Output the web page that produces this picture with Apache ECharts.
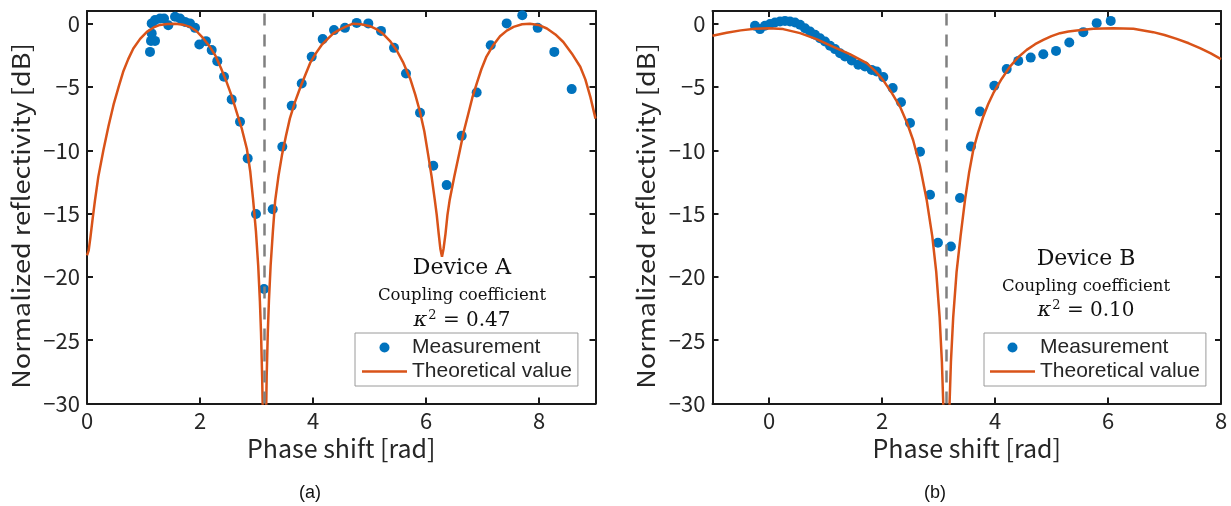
<!DOCTYPE html>
<html>
<head>
<meta charset="utf-8">
<script src="https://cdn.jsdelivr.net/npm/echarts@6/dist/echarts.min.js"></script>
<style>
html,body{margin:0;padding:0;background:#fff;}
#chart{width:1231px;height:506px;}
</style>
</head>
<body>
<div id="chart"></div>
<script>
// ---------- Data ----------
const PI_LINE = 3.1416;
const xTicksA = [0, 2, 4, 6, 8];
const xTicksB = [0, 2, 4, 6, 8];
const yTicks = [-30, -25, -20, -15, -10, -5, 0];
const X_TITLE = 'Phase shift [rad]';
const Y_TITLE = 'Normalized reflectivity [dB]';

// Panel (a) measurement
const xA_meas = [1.115,1.133,1.204,1.145,1.145,1.204,1.292,1.363,1.439,1.558,1.646,1.735,1.823,1.912,1.988,2.106,2.207,2.306,2.425,2.561,2.708,2.844,2.991,3.133,3.287,3.457,3.623,3.800,3.977,4.172,4.372,4.566,4.773,4.979,5.204,5.434,5.646,5.894,6.129,6.366,6.632,6.897,7.145,7.428,7.704,7.977,8.271,8.579];
const yA_meas = [-2.23,-1.36,-1.36,-0.77,0.02,0.28,0.41,0.41,-0.12,0.54,0.41,0.14,0.02,-0.33,-1.64,-1.38,-2.09,-2.96,-4.20,-5.98,-7.75,-10.64,-15.04,-20.95,-14.66,-9.72,-6.49,-4.72,-2.62,-1.22,-0.51,-0.33,0.06,0.02,-0.57,-1.91,-3.93,-7.04,-11.22,-12.75,-8.86,-5.43,-1.70,0.02,0.67,-0.33,-2.23,-5.17];

// Panel (a) theoretical curve
const xA_theo = [0.00,0.03,0.06,0.10,0.14,0.20,0.29,0.38,0.47,0.56,0.64,0.73,0.82,0.94,1.06,1.18,1.29,1.42,1.57,1.70,1.82,1.94,2.06,2.17,2.27,2.37,2.47,2.56,2.65,2.74,2.83,2.89,2.94,2.99,3.03,3.06,3.08,3.10,3.117,3.1416,3.166,3.18,3.20,3.22,3.25,3.29,3.33,3.39,3.45,3.52,3.59,3.68,3.77,3.86,3.95,4.05,4.15,4.26,4.36,4.48,4.60,4.71,4.85,5.01,5.13,5.24,5.36,5.48,5.60,5.72,5.81,5.89,5.97,6.04,6.10,6.155,6.19,6.225,6.255,6.283,6.31,6.345,6.38,6.42,6.50,6.60,6.67,6.75,6.82,6.90,6.98,7.07,7.19,7.31,7.43,7.55,7.70,7.84,7.99,8.14,8.29,8.43,8.58,8.73,8.82,8.91,9.00];
const yA_theo = [-18.3,-17.9,-16.9,-15.4,-14.0,-12.1,-10.0,-8.1,-6.4,-5.0,-3.8,-2.8,-1.96,-1.2,-0.65,-0.3,-0.1,-0.02,0.0,-0.08,-0.25,-0.6,-1.17,-1.8,-2.5,-3.5,-4.6,-5.7,-7.0,-8.3,-9.9,-11.7,-13.9,-16.4,-19.1,-21.9,-24.4,-27.9,-32,-45,-32,-27.9,-24.4,-21.9,-19.1,-16.4,-14.0,-12.0,-10.4,-8.9,-7.5,-6.2,-5.1,-4.1,-3.1,-2.35,-1.7,-1.2,-0.77,-0.45,-0.2,0.0,-0.05,-0.2,-0.45,-0.8,-1.35,-2.1,-3.1,-4.35,-5.6,-6.9,-8.5,-10.4,-12.1,-13.9,-15.1,-16.6,-17.8,-18.4,-17.8,-16.6,-15.1,-13.9,-12.1,-10.0,-8.5,-7.1,-5.85,-4.7,-3.6,-2.6,-1.7,-1.0,-0.55,-0.25,-0.05,0.0,-0.1,-0.38,-0.85,-1.45,-2.35,-3.4,-4.4,-5.8,-7.5];

// Panel (b) measurement
const xB_meas = [-0.248,-0.159,-0.071,0.018,0.106,0.195,0.283,0.372,0.460,0.549,0.637,0.726,0.814,0.903,0.991,1.080,1.168,1.257,1.345,1.464,1.581,1.699,1.818,1.906,2.023,2.189,2.336,2.496,2.673,2.850,2.99,3.22,3.381,3.575,3.735,3.988,4.207,4.412,4.632,4.855,5.080,5.315,5.563,5.800,6.048];
const yB_meas = [-0.17,-0.43,-0.17,-0.02,0.09,0.17,0.22,0.17,0.09,-0.09,-0.36,-0.62,-0.88,-1.15,-1.41,-1.75,-2.01,-2.33,-2.60,-2.91,-3.25,-3.39,-3.65,-3.78,-4.22,-5.09,-6.20,-7.85,-10.12,-13.51,-17.3,-17.6,-13.77,-9.70,-6.94,-4.91,-3.59,-2.94,-2.68,-2.41,-2.15,-1.49,-0.67,0.04,0.22];

// Panel (b) theoretical curve
const xB_theo = [-1.0,-0.75,-0.5,-0.25,0.0,0.25,0.55,0.84,1.14,1.43,1.73,1.88,2.02,2.17,2.32,2.44,2.55,2.67,2.79,2.89,2.96,3.02,3.06,3.09,3.1416,3.19,3.22,3.26,3.32,3.39,3.47,3.54,3.616,3.70,3.793,3.88,3.97,4.12,4.265,4.41,4.561,4.71,4.855,5.0,5.15,5.30,5.446,5.74,6.09,6.45,6.80,7.0,7.216,7.43,7.628,7.82,8.0];
const yB_theo = [-0.96,-0.72,-0.53,-0.41,-0.36,-0.43,-0.75,-1.22,-1.83,-2.4,-3.12,-3.75,-4.46,-5.45,-6.57,-7.8,-9.19,-11.2,-13.9,-16.8,-19.6,-23.2,-26.7,-30.8,-45,-30.8,-26.7,-23.2,-19.6,-16.8,-13.9,-11.8,-9.96,-8.6,-7.33,-6.35,-5.49,-4.35,-3.39,-2.65,-2.07,-1.62,-1.28,-0.98,-0.75,-0.62,-0.54,-0.41,-0.36,-0.41,-0.67,-0.9,-1.2,-1.55,-1.93,-2.35,-2.8];

// ---------- Build chart ----------
const zip = (xs, ys) => xs.map((x, i) => [x, ys[i]]);
const AX = '#262626';
const FRAME = '#1a1a1a';
const TICKFONT = 'Noto Sans CJK JP';
const fmt = v => String(v).replace('-', '\u2212');

function xAxes(grid, min, max, ticks) {
  return [
    { gridIndex: grid, type: 'value', min, max, position: 'bottom',
      name: X_TITLE, nameLocation: 'middle', nameGap: 29,
      nameTextStyle: { fontFamily: TICKFONT, fontSize: 25, color: AX },
      axisLine: { show: true, onZero: false, lineStyle: { color: FRAME, width: 2 } },
      axisTick: { show: true, inside: true, length: 6, customValues: ticks, lineStyle: { color: FRAME, width: 2 } },
      axisLabel: { show: true, customValues: ticks, margin: 6, fontFamily: TICKFONT, fontSize: 22, color: AX, formatter: fmt },
      splitLine: { show: false } },
    { gridIndex: grid, type: 'value', min, max, position: 'top',
      axisLine: { show: true, onZero: false, lineStyle: { color: FRAME, width: 2 } },
      axisTick: { show: true, inside: true, length: 6, customValues: ticks, lineStyle: { color: FRAME, width: 2 } },
      axisLabel: { show: false }, splitLine: { show: false } }
  ];
}
function yAxes(grid) {
  return [
    { gridIndex: grid, type: 'value', min: -30, max: 1, position: 'left',
      axisLine: { show: true, onZero: false, lineStyle: { color: FRAME, width: 2 } },
      axisTick: { show: true, inside: true, length: 6, customValues: yTicks, lineStyle: { color: FRAME, width: 2 } },
      axisLabel: { show: true, customValues: yTicks, margin: 7, fontFamily: TICKFONT, fontSize: 22, color: AX, formatter: fmt },
      splitLine: { show: false } },
    { gridIndex: grid, type: 'value', min: -30, max: 1, position: 'right',
      axisLine: { show: true, onZero: false, lineStyle: { color: FRAME, width: 2 } },
      axisTick: { show: true, inside: true, length: 6, customValues: yTicks, lineStyle: { color: FRAME, width: 2 } },
      axisLabel: { show: false }, splitLine: { show: false } }
  ];
}

function seriesFor(grid, xi, yi, meas, theo) {
  return [
    { type: 'line', xAxisIndex: xi, yAxisIndex: yi, data: [], z: 1, silent: true,
      markLine: { silent: true, symbol: 'none', animation: false, label: { show: false },
        lineStyle: { color: '#808080', type: [12, 9], width: 2.5 },
        data: [{ xAxis: PI_LINE }] } },
    { name: 'Measurement', type: 'scatter', xAxisIndex: xi, yAxisIndex: yi, data: meas,
      symbol: 'circle', symbolSize: 10, itemStyle: { color: '#0072BD', opacity: 1 }, z: 3 },
    { name: 'Theoretical value', type: 'line', xAxisIndex: xi, yAxisIndex: yi, data: theo,
      symbol: 'none', showSymbol: false, clip: true, smooth: false,
      lineStyle: { color: '#D95319', width: 2.5 }, itemStyle: { color: '#D95319' }, z: 4 }
  ];
}

const serif = 'DejaVu Serif';
function annot(cx, y1, y2, y3, dev, kap) {
  return [
    { type: 'text', x: cx, y: y1, style: { text: dev, font: '22px "' + serif + '"', fill: '#111', align: 'center', verticalAlign: 'middle' } },
    { type: 'text', x: cx, y: y2, style: { text: 'Coupling coefficient', font: '16.5px "' + serif + '"', fill: '#111', align: 'center', verticalAlign: 'middle' } },
    { type: 'text', x: cx, y: y3, style: {
        text: '{k|κ}{s|2}{n| = ' + kap + '}', align: 'center', verticalAlign: 'middle',
        rich: {
          k: { font: 'italic 21px "' + serif + '"', fill: '#111' },
          s: { font: '13px "' + serif + '"', fill: '#111', verticalAlign: 'top', padding: [0, 0, 10, 1] },
          n: { font: '20px "' + serif + '"', fill: '#111' }
        } } },
  ];
}
function yTitle(cx, cy) {
  return { type: 'text', x: cx, y: cy, rotation: Math.PI / 2, scaleX: 1.13,
    style: { text: Y_TITLE, font: '24px "' + TICKFONT + '"', fill: AX, align: 'center', verticalAlign: 'middle' } };
}

const legendBase = {
  orient: 'vertical',
  data: [
    { name: 'Measurement', icon: 'circle' },
    { name: 'Theoretical value', icon: 'path://M0,0 L45,0 L45,2.5 L0,2.5 Z' }
  ],
  borderColor: '#9a9a9a', borderWidth: 1, backgroundColor: '#ffffff', borderRadius: 0,
  itemWidth: 45, itemHeight: 10, itemGap: 3, selectedMode: false,
  textStyle: { fontFamily: 'Liberation Sans', fontSize: 21, color: '#262626' }
};

const option = {
  animation: false,
  backgroundColor: '#ffffff',
  grid: [
    { left: 87, top: 11, width: 508.5, height: 392.5, containLabel: false },
    { left: 712.5, top: 11, width: 508.5, height: 392.5, containLabel: false }
  ],
  xAxis: [...xAxes(0, 0, 9, xTicksA), ...xAxes(1, -1, 8, xTicksB)],
  yAxis: [...yAxes(0), ...yAxes(1)],
  legend: [
    Object.assign({}, legendBase, { left: 355, top: 333, padding: [4, 6, 4, 7] }),
    Object.assign({}, legendBase, { left: 984, top: 333, padding: [4, 6, 4, 6] })
  ],
  graphic: [
    yTitle(21, 216),
    yTitle(646, 216),
    ...annot(462, 268, 296, 321, 'Device A', '0.47'),
    ...annot(1086, 259, 287, 311, 'Device B', '0.10'),
    { type: 'text', x: 310, y: 493, style: { text: '(a)', font: '18px "Liberation Sans"', fill: '#111', align: 'center', verticalAlign: 'middle' } },
    { type: 'text', x: 935, y: 493, style: { text: '(b)', font: '18px "Liberation Sans"', fill: '#111', align: 'center', verticalAlign: 'middle' } }
  ],
  series: [
    ...seriesFor(0, 0, 0, zip(xA_meas, yA_meas), zip(xA_theo, yA_theo)),
    ...seriesFor(1, 2, 2, zip(xB_meas, yB_meas), zip(xB_theo, yB_theo))
  ]
};

const chart = echarts.init(document.getElementById('chart'), null, { renderer: 'canvas' });
chart.setOption(option);
</script>
</body>
</html>
